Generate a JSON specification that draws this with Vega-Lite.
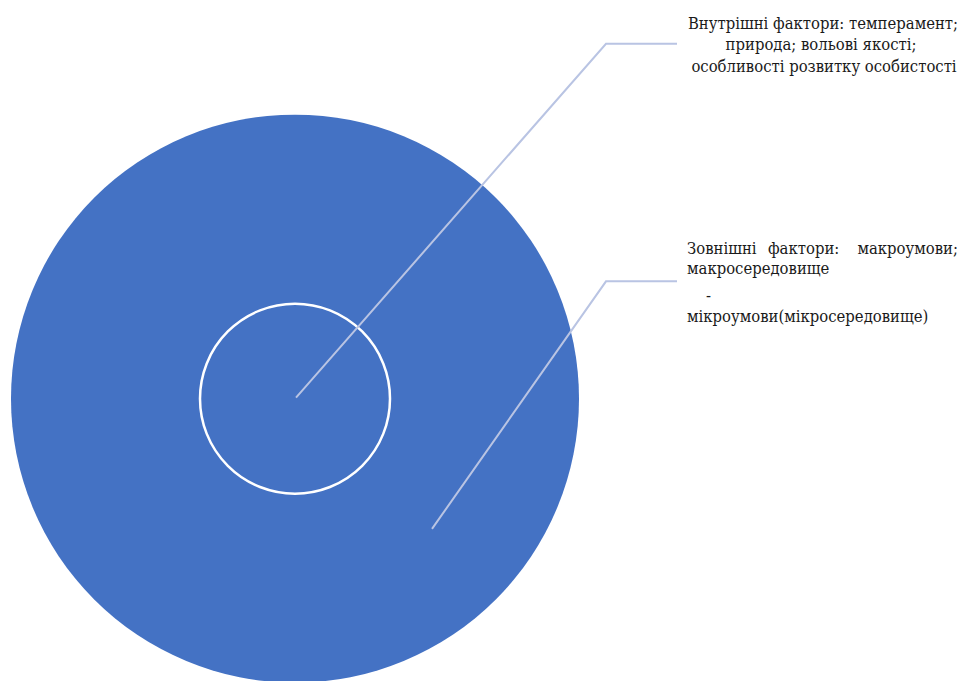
{
  "$schema": "https://vega.github.io/schema/vega-lite/v6.json",
  "width": 963,
  "height": 681,
  "autosize": {"type": "fit", "contains": "padding"},
  "padding": 0,
  "background": "white",
  "config": {"view": {"stroke": null}},
  "datasets": {
    "circles": [
      {"ring": "зовнішнє коло", "cx": 295, "cy": 401, "d": 568},
      {"ring": "внутрішнє коло", "cx": 295, "cy": 401, "d": 190}
    ],
    "leaders": [
      {"id": "внутрішні", "ord": 1, "x": 296, "y": 400},
      {"id": "внутрішні", "ord": 2, "x": 606, "y": 44},
      {"id": "внутрішні", "ord": 3, "x": 677, "y": 44},
      {"id": "зовнішні", "ord": 1, "x": 432, "y": 532},
      {"id": "зовнішні", "ord": 2, "x": 606, "y": 283},
      {"id": "зовнішні", "ord": 3, "x": 677, "y": 283}
    ],
    "labelsCenter": [
      {"t": "Внутрішні фактори: темперамент;", "x": 823, "y": 24},
      {"t": "природа; вольові якості;", "x": 821, "y": 45},
      {"t": "особливості розвитку особистості", "x": 824, "y": 67}
    ],
    "labelsLeft": [
      {"t": "Зовнішні", "x": 687, "y": 250},
      {"t": "фактори:", "x": 768, "y": 250},
      {"t": "макросередовище", "x": 687, "y": 271},
      {"t": "-", "x": 706, "y": 298},
      {"t": "мікроумови(мікросередовище)", "x": 687, "y": 319}
    ],
    "labelsRight": [
      {"t": "макроумови;", "x": 958, "y": 250}
    ]
  },
  "layer": [
    {
      "data": {"name": "circles"},
      "transform": [{"filter": "datum.d > 300"}],
      "mark": {"type": "point", "shape": "circle", "filled": true, "fill": "#4472c4", "opacity": 1, "strokeWidth": 0},
      "encoding": {
        "x": {"field": "cx", "type": "quantitative", "scale": {"domain": [0, 963], "nice": false, "zero": false}, "axis": null},
        "y": {"field": "cy", "type": "quantitative", "scale": {"domain": [0, 681], "nice": false, "zero": false, "reverse": true}, "axis": null},
        "size": {"field": "d", "type": "quantitative", "scale": {"type": "pow", "exponent": 2, "domain": [0, 568], "range": [0, 322624]}, "legend": null}
      }
    },
    {
      "data": {"name": "circles"},
      "transform": [{"filter": "datum.d < 300"}],
      "mark": {"type": "point", "shape": "circle", "filled": false, "stroke": "white", "strokeWidth": 2.5, "opacity": 1},
      "encoding": {
        "x": {"field": "cx", "type": "quantitative", "scale": {"domain": [0, 963], "nice": false, "zero": false}, "axis": null},
        "y": {"field": "cy", "type": "quantitative", "scale": {"domain": [0, 681], "nice": false, "zero": false, "reverse": true}, "axis": null},
        "size": {"field": "d", "type": "quantitative", "scale": {"type": "pow", "exponent": 2, "domain": [0, 568], "range": [0, 322624]}, "legend": null}
      }
    },
    {
      "data": {"name": "leaders"},
      "mark": {"type": "line", "stroke": "#b9c4e3", "strokeWidth": 2},
      "encoding": {
        "x": {"field": "x", "type": "quantitative", "axis": null},
        "y": {"field": "y", "type": "quantitative", "axis": null},
        "detail": {"field": "id"},
        "order": {"field": "ord", "type": "quantitative"}
      }
    },
    {
      "data": {"name": "labelsCenter"},
      "mark": {"type": "text", "align": "center", "baseline": "middle", "font": "DejaVu Serif Condensed", "fontSize": 16.5, "color": "#1a1a1a"},
      "encoding": {
        "x": {"field": "x", "type": "quantitative", "axis": null},
        "y": {"field": "y", "type": "quantitative", "axis": null},
        "text": {"field": "t"}
      }
    },
    {
      "data": {"name": "labelsLeft"},
      "mark": {"type": "text", "align": "left", "baseline": "middle", "font": "DejaVu Serif Condensed", "fontSize": 16.5, "color": "#1a1a1a"},
      "encoding": {
        "x": {"field": "x", "type": "quantitative", "axis": null},
        "y": {"field": "y", "type": "quantitative", "axis": null},
        "text": {"field": "t"}
      }
    },
    {
      "data": {"name": "labelsRight"},
      "mark": {"type": "text", "align": "right", "baseline": "middle", "font": "DejaVu Serif Condensed", "fontSize": 16.5, "color": "#1a1a1a"},
      "encoding": {
        "x": {"field": "x", "type": "quantitative", "axis": null},
        "y": {"field": "y", "type": "quantitative", "axis": null},
        "text": {"field": "t"}
      }
    }
  ]
}
